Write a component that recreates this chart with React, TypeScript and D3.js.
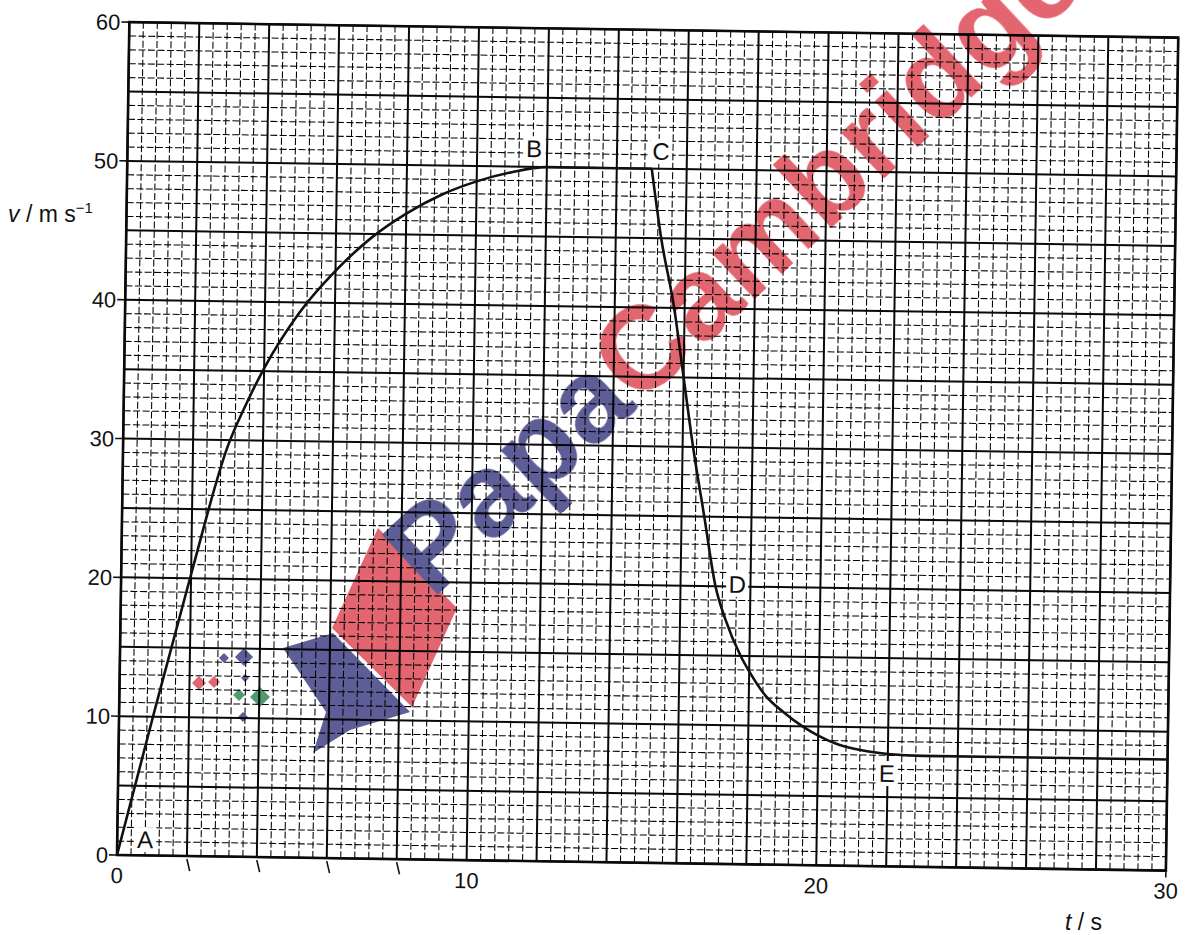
import React from 'react';
import * as d3 from 'd3';

const W = 1186;
const H = 935;

// axes
const tDomain: [number, number] = [0, 30];
const vDomain: [number, number] = [0, 60];
const xTickLabels = [0, 10, 20, 30];
const yTickLabels = [0, 10, 20, 30, 40, 50, 60];
const xHandTicks = [2, 4, 6, 8];

// curve A -> B -> C (t in s, v in m/s)
const riseT = [0, 1, 2, 3, 3.5, 4, 5, 6, 7, 8, 9, 10, 11, 12, 15];
const riseV = [0, 10.3, 20.3, 29.6, 32.6, 35.2, 39.3, 42.3, 44.7, 46.5, 47.9, 48.9, 49.6, 50, 50];
// curve C -> D -> E
const fallT = [15, 15.3, 15.7, 16.0, 16.3, 16.65, 17, 17.3, 17.75, 18, 18.5, 19, 19.55, 20, 20.5, 21, 22, 23, 30];
const fallV = [50, 45, 40, 35, 30, 25, 20, 17.6, 15, 13.9, 12.1, 11.0, 10, 9.35, 8.8, 8.45, 8.1, 8.0, 8.0];

// point labels
const pointLabels = ['A', 'B', 'C', 'D', 'E'];
const labelT = [0.8, 11.63, 15.26, 17.62, 21.98];
const labelV = [0.53, 50.7, 50.65, 19.54, 6.08];

const ROT = 0.85;
const X0 = 117;
const Y0 = 855;

export default function App() {
  const x = d3.scaleLinear().domain(tDomain).range([X0, 1166]);
  const y = d3.scaleLinear().domain(vDomain).range([Y0, 22]);

  const minorX = d3.range(0, 76).map((k) => ({ t: k * 0.4, heavy: k % 5 === 0 }));
  const minorY = d3.range(0, 61).map((v) => ({ v, heavy: v % 5 === 0 }));

  const line = d3
    .line<[number, number]>()
    .x((d) => x(d[0]))
    .y((d) => y(d[1]))
    .curve(d3.curveMonotoneX);

  const rise = riseT.map((t, i) => [t, riseV[i]] as [number, number]);
  const fall = fallT.map((t, i) => [t, fallV[i]] as [number, number]);

  const font = "'Liberation Sans', Arial, Helvetica, sans-serif";

  const redC = '#e2656f';
  const blueC = '#5d5d98';
  const greenC = '#4f9a6e';

  const diamonds = [
    { cx: 199, cy: 683, r: 7, c: redC },
    { cx: 214, cy: 682, r: 6, c: redC },
    { cx: 224, cy: 658, r: 5, c: blueC },
    { cx: 244, cy: 657, r: 9, c: blueC },
    { cx: 245, cy: 678, r: 4, c: blueC },
    { cx: 243, cy: 717, r: 5, c: blueC },
    { cx: 239, cy: 695, r: 6, c: greenC },
    { cx: 260, cy: 697, r: 10, c: greenC },
  ];

  return (
    <svg
      width={W}
      height={H}
      style={{ position: 'absolute', left: 0, top: 0, display: 'block', background: '#fff' }}
      fontFamily={font}
    >
      <rect x={0} y={0} width={W} height={H} fill="#fff" />
      <g transform={`rotate(${ROT}, ${X0}, ${Y0})`}>
        {/* minor grid */}
        {minorX
          .filter((d) => !d.heavy)
          .map((d, i) => (
            <line
              key={'mx' + i}
              x1={x(d.t)}
              x2={x(d.t)}
              y1={y(0)}
              y2={y(60)}
              stroke="#000"
              strokeWidth={1.05}
              strokeDasharray="7 2.5"
            />
          ))}
        {minorY
          .filter((d) => !d.heavy)
          .map((d, i) => (
            <line
              key={'my' + i}
              x1={x(0)}
              x2={x(30)}
              y1={y(d.v)}
              y2={y(d.v)}
              stroke="#000"
              strokeWidth={1.05}
              strokeDasharray="7 2.5"
            />
          ))}
        {/* heavy grid */}
        {minorX
          .filter((d) => d.heavy)
          .map((d, i) => (
            <line key={'hx' + i} x1={x(d.t)} x2={x(d.t)} y1={y(0)} y2={y(60)} stroke="#0a0a0a" strokeWidth={2} />
          ))}
        {minorY
          .filter((d) => d.heavy)
          .map((d, i) => (
            <line key={'hy' + i} x1={x(0)} x2={x(30)} y1={y(d.v)} y2={y(d.v)} stroke="#0a0a0a" strokeWidth={2} />
          ))}
        <rect
          x={x(0)}
          y={y(60)}
          width={x(30) - x(0)}
          height={y(0) - y(60)}
          fill="none"
          stroke="#0a0a0a"
          strokeWidth={2.6}
        />

        {/* y ticks + labels */}
        {yTickLabels.map((v) => (
          <g key={'yt' + v}>
            <line x1={x(0) - 8} x2={x(0)} y1={y(v)} y2={y(v)} stroke="#111" strokeWidth={1.6} />
            <text x={x(0) - 9} y={y(v)} dy="0.36em" textAnchor="end" fontSize={22} fill="#111">
              {v}
            </text>
          </g>
        ))}

        {/* x ticks + labels */}
        {xHandTicks.map((t) => (
          <line key={'xh' + t} x1={x(t)} x2={x(t) + 3} y1={y(0) + 3} y2={y(0) + 15} stroke="#111" strokeWidth={1.6} />
        ))}
        <line x1={x(30)} x2={x(30)} y1={y(0)} y2={y(0) + 7} stroke="#111" strokeWidth={1.6} />
        {xTickLabels.map((t) => (
          <text key={'xt' + t} x={x(t)} y={y(0) + 28} textAnchor="middle" fontSize={22} fill="#111">
            {t}
          </text>
        ))}

        {/* curve */}
        <path d={line(rise) || ''} fill="none" stroke="#111" strokeWidth={2.6} strokeLinejoin="round" />
        <path d={line(fall) || ''} fill="none" stroke="#111" strokeWidth={2.6} strokeLinejoin="round" />

        {/* point labels */}
        {pointLabels.map((s, i) => (
          <g key={'pl' + s}>
            <rect
              x={x(labelT[i]) - 11}
              y={y(labelV[i]) - 21}
              width={22}
              height={25}
              fill="#fff"
            />
            <text x={x(labelT[i])} y={y(labelV[i])} textAnchor="middle" fontSize={24} fill="#111">
              {s}
            </text>
          </g>
        ))}
      </g>

      {/* axis titles */}
      <text x={8} y={222} fontSize={23} fill="#111">
        <tspan fontStyle="italic">v</tspan>
        <tspan> / m s</tspan>
        <tspan dy={-9} fontSize={15}>
          −1
        </tspan>
      </text>
      <text x={1065} y={930} fontSize={23} fill="#111">
        <tspan fontStyle="italic">t</tspan>
        <tspan> / s</tspan>
      </text>

      {/* watermark */}
      <g style={{ mixBlendMode: 'multiply' }}>
        <polygon points="378,528 457,608 412,707 332,628" fill={redC} />
        <polygon points="283,648 333,633 410,712 350,730 313,753 326,712" fill={blueC} />
        {diamonds.map((d, i) => (
          <polygon
            key={'dm' + i}
            points={`${d.cx},${d.cy - d.r} ${d.cx + d.r},${d.cy} ${d.cx},${d.cy + d.r} ${d.cx - d.r},${d.cy}`}
            fill={d.c}
          />
        ))}
        <g transform="translate(432, 600) rotate(-43)">
          <text x={0} y={0} fontSize={118} fontWeight="bold" fontFamily={font}>
            <tspan fill={blueC}>Papa</tspan>
            <tspan fill={redC}>Cambridge</tspan>
          </text>
        </g>
      </g>
    </svg>
  );
}
